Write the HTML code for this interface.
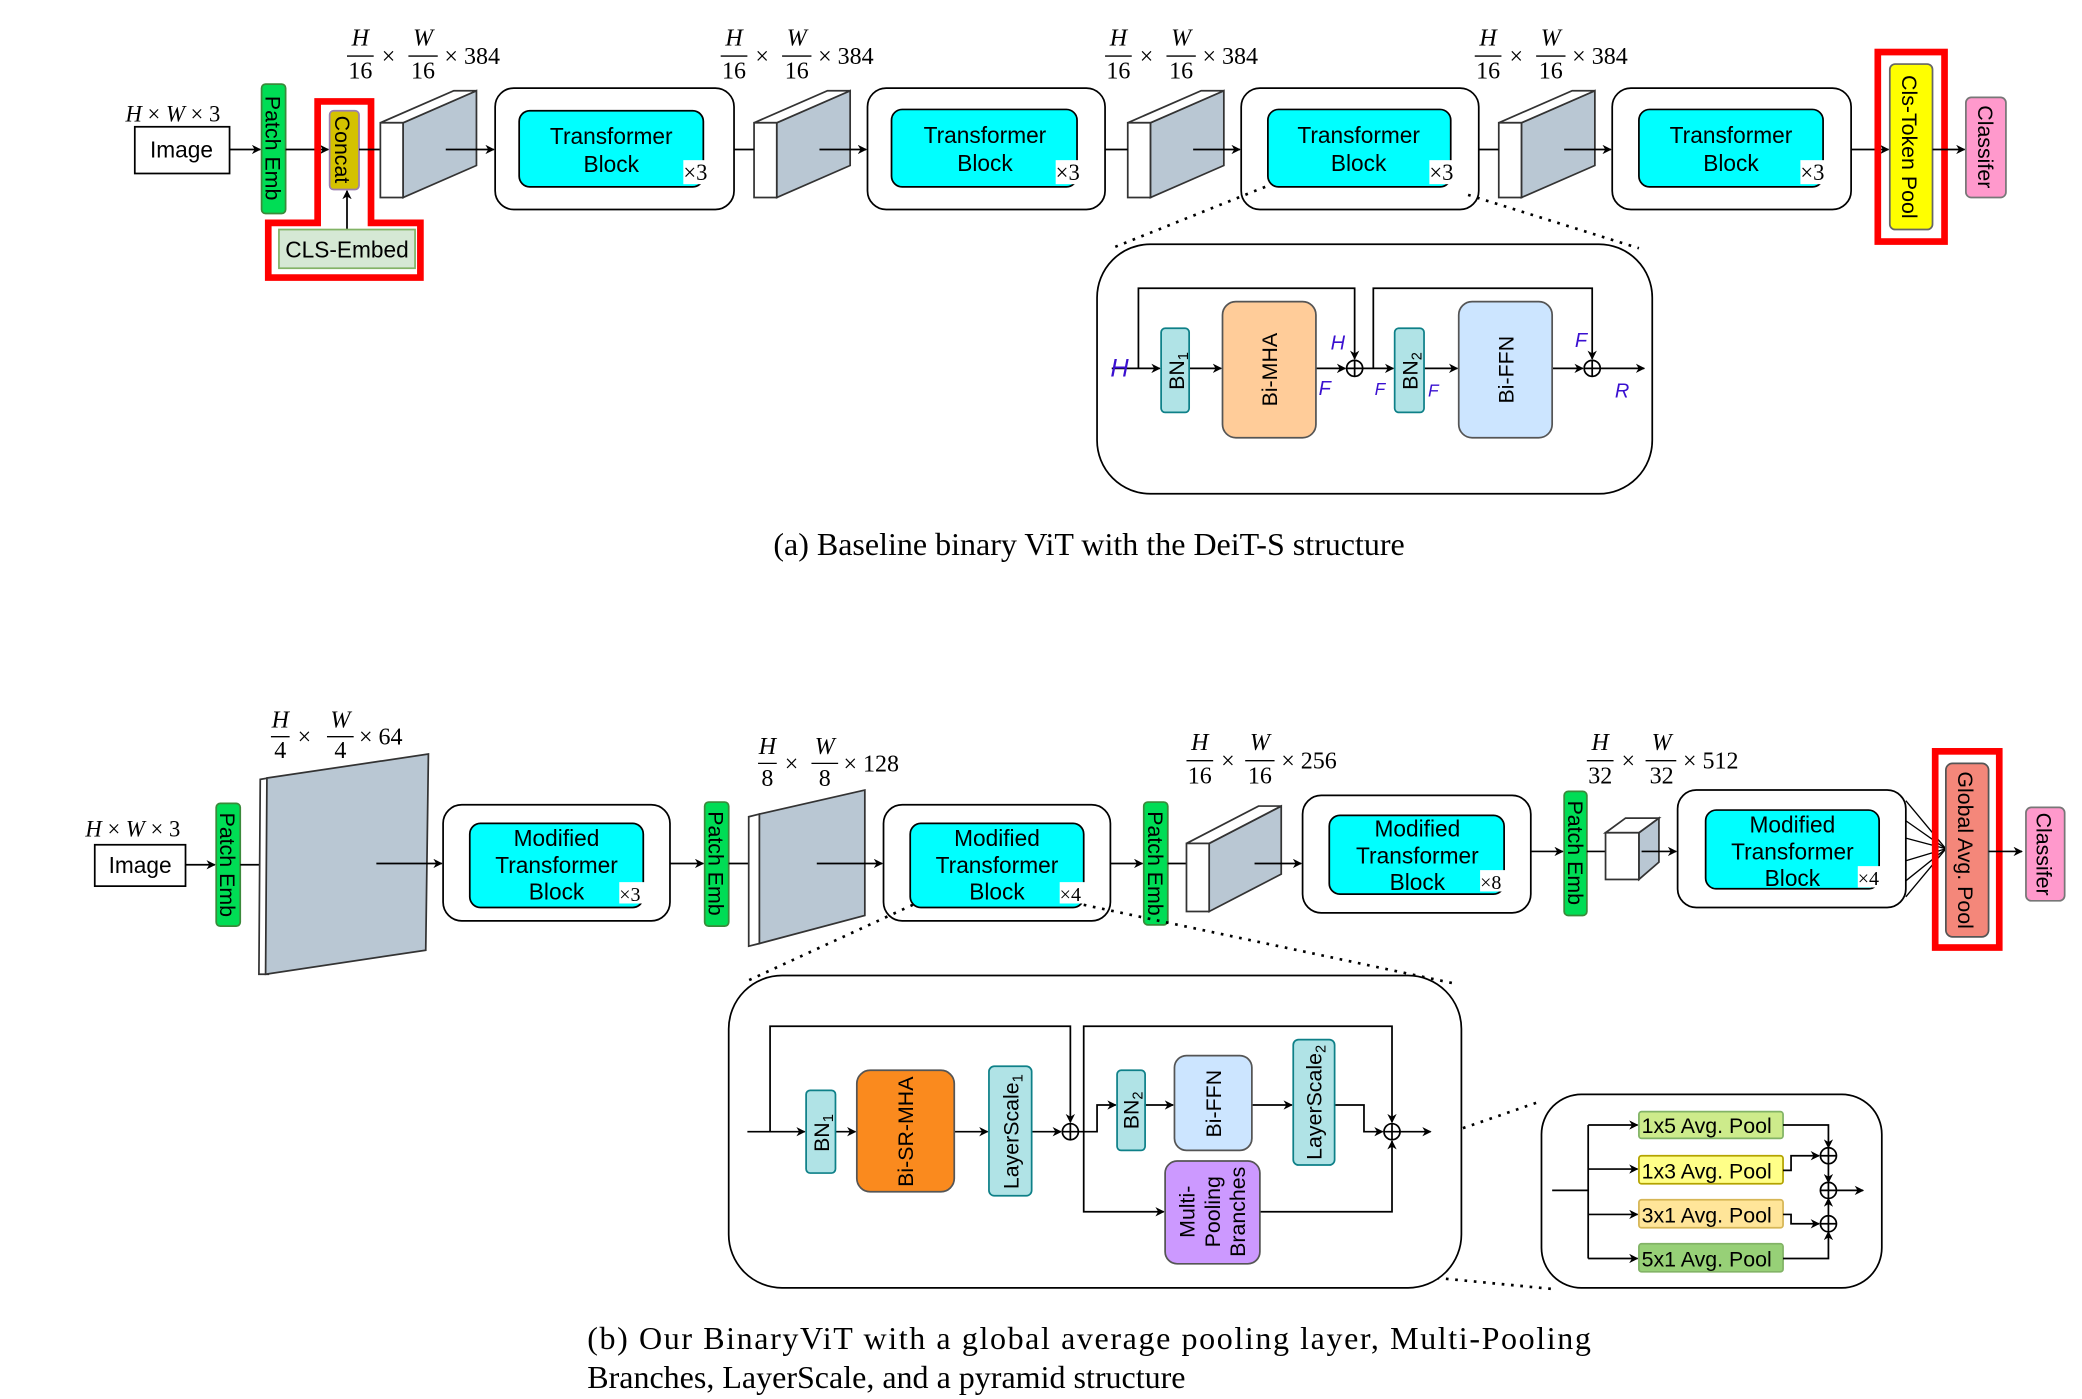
<!DOCTYPE html>
<html><head><meta charset="utf-8"><style>
html,body{margin:0;padding:0;background:#fff;}
svg{display:block;}
.s{font-family:"Liberation Sans",sans-serif;}
.m{font-family:"Liberation Serif",serif;}
</style></head><body>
<svg width="2082" height="1399" viewBox="0 0 1560 1048.3" preserveAspectRatio="none" xmlns="http://www.w3.org/2000/svg">
<defs>
<marker id="a" viewBox="0 0 10 10" refX="9" refY="5" markerWidth="7" markerHeight="7" orient="auto" markerUnits="userSpaceOnUse"><path d="M0,0 L10,5 L0,10 L3,5 Z" fill="#000"/></marker>
</defs>
<rect width="1560" height="1049" fill="#fff"/>
<g stroke="#000" stroke-width="1.3" fill="none">
<rect x="101" y="95" width="71" height="35" fill="#fff"/>
<line x1="172" y1="112" x2="195" y2="112" marker-end="url(#a)"/>
<rect x="196" y="63" width="18" height="97" rx="3" fill="#00dd55" stroke="#3a8a3a"/>
<line x1="214" y1="112" x2="246" y2="112" marker-end="url(#a)"/>
<rect x="247" y="83" width="22" height="59" rx="3" fill="#d4c200" stroke="#9a7fb0"/>
<line x1="260" y1="172" x2="260" y2="143" marker-end="url(#a)"/>
<rect x="209" y="172" width="102" height="29" fill="#d5e8d4" stroke="#82b366"/>
<path d="M238,76 L278,76 L278,167 L315,167 L315,208 L201,208 L201,167 L238,167 Z" stroke="#ff0000" stroke-width="5"/>
<line x1="269" y1="112" x2="285" y2="112"/>
<g fill="#b9c7d3" stroke="#333">
<path d="M302,92 L357,68 L357,124 L302,148 Z"/>
<path d="M285,92 L340,68 L357,68 L302,92 Z" fill="#fff"/>
<rect x="285" y="92" width="17" height="56" fill="#fff"/>
<path d="M582,92 L637,68 L637,124 L582,148 Z"/>
<path d="M565,92 L620,68 L637,68 L582,92 Z" fill="#fff"/>
<rect x="565" y="92" width="17" height="56" fill="#fff"/>
<path d="M862,92 L917,68 L917,124 L862,148 Z"/>
<path d="M845,92 L900,68 L917,68 L862,92 Z" fill="#fff"/>
<rect x="845" y="92" width="17" height="56" fill="#fff"/>
<path d="M1140,92 L1195,68 L1195,124 L1140,148 Z"/>
<path d="M1123,92 L1178,68 L1195,68 L1140,92 Z" fill="#fff"/>
<rect x="1123" y="92" width="17" height="56" fill="#fff"/>
</g>
<line x1="334" y1="112" x2="370" y2="112" marker-end="url(#a)"/>
<line x1="614" y1="112" x2="649" y2="112" marker-end="url(#a)"/>
<line x1="894" y1="112" x2="929" y2="112" marker-end="url(#a)"/>
<line x1="1172" y1="112" x2="1207" y2="112" marker-end="url(#a)"/>
<line x1="550" y1="112" x2="565" y2="112"/>
<line x1="828" y1="112" x2="845" y2="112"/>
<line x1="1108" y1="112" x2="1123" y2="112"/>
<rect x="371" y="66" width="179" height="91" rx="14" fill="#fff"/>
<rect x="389" y="83" width="138" height="57" rx="8" fill="#00ffff"/>
<rect x="650" y="66" width="178" height="91" rx="14" fill="#fff"/>
<rect x="668" y="82" width="139" height="58" rx="8" fill="#00ffff"/>
<rect x="930" y="66" width="178" height="91" rx="14" fill="#fff"/>
<rect x="950" y="82" width="137" height="58" rx="8" fill="#00ffff"/>
<rect x="1208" y="66" width="179" height="91" rx="14" fill="#fff"/>
<rect x="1228" y="82" width="138" height="58" rx="8" fill="#00ffff"/>
<line x1="1387" y1="112" x2="1415" y2="112" marker-end="url(#a)"/>
<rect x="1416" y="48" width="32" height="124" rx="4" fill="#ffff00" stroke="#666"/>
<rect x="1407" y="39" width="50" height="142" stroke="#ff0000" stroke-width="5"/>
<line x1="1448" y1="112" x2="1472" y2="112" marker-end="url(#a)"/>
<rect x="1473" y="73" width="30" height="75" rx="4" fill="#ff99cc" stroke="#777"/>
<g stroke-dasharray="2,5" stroke-width="2">
<line x1="948" y1="140" x2="833" y2="186"/>
<line x1="1100" y1="146" x2="1228" y2="186"/>
</g>
<rect x="822" y="183" width="416" height="187" rx="40" fill="#fff"/>
<path d="M853,276 L853,216 L1015,216 L1015,269" marker-end="url(#a)"/>
<path d="M1029,276 L1029,216 L1193,216 L1193,269" marker-end="url(#a)"/>
<line x1="833" y1="276" x2="869" y2="276" marker-end="url(#a)"/>
<line x1="891" y1="276" x2="915" y2="276" marker-end="url(#a)"/>
<line x1="986" y1="276" x2="1008" y2="276" marker-end="url(#a)"/>
<circle cx="1015" cy="276" r="6" fill="#fff"/>
<path d="M1009,276 H1021 M1015,270 V282"/>
<line x1="1021" y1="276" x2="1044" y2="276" marker-end="url(#a)"/>
<line x1="1067" y1="276" x2="1092" y2="276" marker-end="url(#a)"/>
<line x1="1163" y1="276" x2="1186" y2="276" marker-end="url(#a)"/>
<circle cx="1193" cy="276" r="6" fill="#fff"/>
<path d="M1187,276 H1199 M1193,270 V282"/>
<line x1="1199" y1="276" x2="1232" y2="276" marker-end="url(#a)"/>
<rect x="870" y="246" width="21" height="63" rx="3" fill="#b0e3e6" stroke="#0e8088"/>
<rect x="916" y="226" width="70" height="102" rx="10" fill="#ffcc99" stroke="#555"/>
<rect x="1045" y="246" width="22" height="63" rx="3" fill="#b0e3e6" stroke="#0e8088"/>
<rect x="1093" y="226" width="70" height="102" rx="10" fill="#cce5ff" stroke="#555"/>

<rect x="71" y="633" width="68" height="31" fill="#fff"/>
<line x1="139" y1="648" x2="161" y2="648" marker-end="url(#a)"/>
<rect x="162" y="602" width="18" height="92" rx="3" fill="#00dd55" stroke="#3a8a3a"/>
<line x1="180" y1="648" x2="196" y2="648"/>
<path d="M195,584 L201,583 L201,730 L194,730 Z" fill="#fff" stroke="#333"/>
<path d="M200,583 L321,565 L319,712 L199,730 Z" fill="#b9c7d3" stroke="#333"/>
<line x1="282" y1="647" x2="331" y2="647" marker-end="url(#a)"/>
<rect x="332" y="603" width="170" height="87" rx="14" fill="#fff"/>
<rect x="352" y="617" width="130" height="63" rx="8" fill="#00ffff"/>
<line x1="502" y1="647" x2="527" y2="647" marker-end="url(#a)"/>
<rect x="528" y="601" width="18" height="93" rx="3" fill="#00dd55" stroke="#3a8a3a"/>
<line x1="546" y1="647" x2="561" y2="647"/>
<path d="M561,612 L569,610 L569,707 L561,709 Z" fill="#fff" stroke="#333"/>
<path d="M569,610 L648,592 L648,686 L569,707 Z" fill="#b9c7d3" stroke="#333"/>
<line x1="612" y1="647" x2="661" y2="647" marker-end="url(#a)"/>
<rect x="662" y="603" width="170" height="87" rx="14" fill="#fff"/>
<rect x="682" y="617" width="130" height="63" rx="8" fill="#00ffff"/>
<line x1="832" y1="647" x2="856" y2="647" marker-end="url(#a)"/>
<rect x="857" y="601" width="18" height="92" rx="3" fill="#00dd55" stroke="#3a8a3a"/>
<line x1="875" y1="647" x2="890" y2="647"/>
<g stroke="#333">
<path d="M906,632 L960,604 L960,655 L906,683 Z" fill="#b9c7d3"/>
<path d="M889,632 L943,604 L960,604 L906,632 Z" fill="#fff"/>
<rect x="889" y="632" width="17" height="51" fill="#fff"/>
</g>
<line x1="940" y1="647" x2="975" y2="647" marker-end="url(#a)"/>
<rect x="976" y="596" width="171" height="88" rx="14" fill="#fff"/>
<rect x="996" y="611" width="131" height="59" rx="8" fill="#00ffff"/>
<line x1="1147" y1="638" x2="1171" y2="638" marker-end="url(#a)"/>
<rect x="1172" y="593" width="17" height="93" rx="3" fill="#00dd55" stroke="#3a8a3a"/>
<line x1="1189" y1="638" x2="1203" y2="638"/>
<g stroke="#333">
<path d="M1228,624 L1243,613 L1243,646 L1228,659 Z" fill="#b9c7d3"/>
<path d="M1203,624 L1218,613 L1243,613 L1228,624 Z" fill="#fff"/>
<rect x="1203" y="624" width="25" height="35" fill="#fff"/>
</g>
<line x1="1230" y1="638" x2="1256" y2="638" marker-end="url(#a)"/>
<rect x="1257" y="592" width="171" height="88" rx="14" fill="#fff"/>
<rect x="1278" y="607" width="130" height="59" rx="8" fill="#00ffff"/>
<g stroke-width="1">
<line x1="1428" y1="600" x2="1458" y2="636"/>
<line x1="1428" y1="615" x2="1458" y2="636"/>
<line x1="1428" y1="628" x2="1458" y2="636"/>
<line x1="1428" y1="645" x2="1458" y2="636"/>
<line x1="1428" y1="660" x2="1458" y2="636"/>
<line x1="1428" y1="672" x2="1458" y2="636"/>
</g>
<rect x="1458" y="572" width="32" height="130" rx="5" fill="#f4877a" stroke="#555"/>
<rect x="1450" y="563" width="48" height="147" stroke="#ff0000" stroke-width="5"/>
<line x1="1490" y1="638" x2="1515" y2="638" marker-end="url(#a)"/>
<rect x="1518" y="605" width="29" height="70" rx="4" fill="#ff99cc" stroke="#777"/>
<g stroke-dasharray="2,5" stroke-width="2">
<line x1="684" y1="678" x2="560" y2="735"/>
<line x1="812" y1="678" x2="1090" y2="737"/>
<line x1="944" y1="898" x2="1155" y2="825"/>
<line x1="944" y1="945" x2="1165" y2="966"/>
</g>
<rect x="546" y="731" width="549" height="234" rx="40" fill="#fff"/>
<path d="M577,848 L577,769 L802,769 L802,841" marker-end="url(#a)"/>
<line x1="560" y1="848" x2="603" y2="848" marker-end="url(#a)"/>
<line x1="626" y1="848" x2="641" y2="848" marker-end="url(#a)"/>
<line x1="715" y1="848" x2="740" y2="848" marker-end="url(#a)"/>
<line x1="773" y1="848" x2="795" y2="848" marker-end="url(#a)"/>
<circle cx="802" cy="848" r="6" fill="#fff"/>
<path d="M796,848 H808 M802,842 V854"/>
<path d="M808,848 L822,848 L822,828 L836,828" marker-end="url(#a)"/>
<path d="M812,848 L812,769 L1043,769 L1043,841" marker-end="url(#a)"/>
<path d="M812,848 L812,908 L872,908" marker-end="url(#a)"/>
<line x1="858" y1="828" x2="879" y2="828" marker-end="url(#a)"/>
<line x1="938" y1="828" x2="968" y2="828" marker-end="url(#a)"/>
<path d="M1000,828 L1022,828 L1022,848 L1036,848" marker-end="url(#a)"/>
<path d="M944,908 L1043,908 L1043,855" marker-end="url(#a)"/>
<circle cx="1043" cy="848" r="6" fill="#fff"/>
<path d="M1037,848 H1049 M1043,842 V854"/>
<line x1="1049" y1="848" x2="1072" y2="848" marker-end="url(#a)"/>
<rect x="604" y="817" width="22" height="62" rx="3" fill="#b0e3e6" stroke="#0e8088"/>
<rect x="642" y="802" width="73" height="91" rx="10" fill="#fa8a1e" stroke="#555"/>
<rect x="741" y="799" width="32" height="97" rx="4" fill="#b0e3e6" stroke="#0e8088"/>
<rect x="837" y="802" width="21" height="60" rx="3" fill="#b0e3e6" stroke="#0e8088"/>
<rect x="880" y="791" width="58" height="71" rx="9" fill="#cce5ff" stroke="#555"/>
<rect x="969" y="779" width="31" height="94" rx="4" fill="#b0e3e6" stroke="#0e8088"/>
<rect x="873" y="870" width="71" height="77" rx="9" fill="#cc99ff" stroke="#555"/>
<rect x="1155" y="820" width="255" height="145" rx="30" fill="#fff"/>
<line x1="1163" y1="892" x2="1190" y2="892"/>
<line x1="1190" y1="843" x2="1190" y2="943"/>
<line x1="1190" y1="843" x2="1227" y2="843" marker-end="url(#a)"/>
<line x1="1190" y1="876" x2="1227" y2="876" marker-end="url(#a)"/>
<line x1="1190" y1="910" x2="1227" y2="910" marker-end="url(#a)"/>
<line x1="1190" y1="943" x2="1227" y2="943" marker-end="url(#a)"/>
<rect x="1228" y="833" width="108" height="20" rx="2" fill="#cdeb8b" stroke="#82b366"/>
<rect x="1228" y="866" width="108" height="21" rx="2" fill="#ffff88" stroke="#b3a300"/>
<rect x="1228" y="899" width="108" height="21" rx="2" fill="#ffe599" stroke="#d6b656"/>
<rect x="1228" y="932" width="108" height="21" rx="2" fill="#97d077" stroke="#82b366"/>
<path d="M1336,843 L1370,843 L1370,860" marker-end="url(#a)"/>
<path d="M1336,877 L1342,877 L1342,866 L1363,866" marker-end="url(#a)"/>
<path d="M1336,910 L1342,910 L1342,917 L1363,917" marker-end="url(#a)"/>
<path d="M1336,943 L1370,943 L1370,923" marker-end="url(#a)"/>
<line x1="1370" y1="872" x2="1370" y2="886" marker-end="url(#a)"/>
<line x1="1370" y1="911" x2="1370" y2="898" marker-end="url(#a)"/>
<g fill="#fff">
<circle cx="1370" cy="866" r="6"/><circle cx="1370" cy="892" r="6"/><circle cx="1370" cy="917" r="6"/>
</g>
<path d="M1364,866 H1376 M1370,860 V872 M1364,892 H1376 M1370,886 V898 M1364,917 H1376 M1370,911 V923"/>
<line x1="1376" y1="892" x2="1396" y2="892" marker-end="url(#a)"/>
</g>

<g class="s" fill="#000" font-size="16">
<text x="136" y="118" text-anchor="middle" font-size="17">Image</text>
<text x="105" y="654" text-anchor="middle" font-size="17">Image</text>
<text x="260" y="193" text-anchor="middle" font-size="17">CLS-Embed</text>
<g font-size="17" text-anchor="middle">
<text x="458" y="108">Transformer</text><text x="458" y="129">Block</text>
<text x="738" y="107">Transformer</text><text x="738" y="128">Block</text>
<text x="1018" y="107">Transformer</text><text x="1018" y="128">Block</text>
<text x="1297" y="107">Transformer</text><text x="1297" y="128">Block</text>
<text x="417" y="634">Modified</text><text x="417" y="654">Transformer</text><text x="417" y="674">Block</text>
<text x="747" y="634">Modified</text><text x="747" y="654">Transformer</text><text x="747" y="674">Block</text>
<text x="1062" y="627">Modified</text><text x="1062" y="647">Transformer</text><text x="1062" y="667">Block</text>
<text x="1343" y="624">Modified</text><text x="1343" y="644">Transformer</text><text x="1343" y="664">Block</text>
</g>
<text transform="translate(199,111) rotate(90)" text-anchor="middle" font-size="16">Patch Emb</text>
<text transform="translate(251,112) rotate(90)" text-anchor="middle" font-size="16">Concat</text>
<text transform="translate(1425,110) rotate(90)" text-anchor="middle" font-size="16">Cls-Token Pool</text>
<text transform="translate(1482,110) rotate(90)" text-anchor="middle" font-size="16">Classifer</text>
<text transform="translate(165,648) rotate(90)" text-anchor="middle">Patch Emb</text>
<text transform="translate(531,647) rotate(90)" text-anchor="middle">Patch Emb</text>
<text transform="translate(860,647) rotate(90)" text-anchor="middle">Patch Emb</text>
<text transform="translate(1175,639) rotate(90)" text-anchor="middle">Patch Emb</text>
<text transform="translate(1467,637) rotate(90)" text-anchor="middle">Global Avg. Pool</text>
<text transform="translate(1526,640) rotate(90)" text-anchor="middle">Classifer</text>
<text transform="translate(887,278) rotate(-90)" text-anchor="middle">BN<tspan font-size="11" dy="3">1</tspan></text>
<text transform="translate(957,277) rotate(-90)" text-anchor="middle">Bi-MHA</text>
<text transform="translate(1062,278) rotate(-90)" text-anchor="middle">BN<tspan font-size="11" dy="3">2</tspan></text>
<text transform="translate(1134,277) rotate(-90)" text-anchor="middle">Bi-FFN</text>
<text transform="translate(621,849) rotate(-90)" text-anchor="middle">BN<tspan font-size="11" dy="3">1</tspan></text>
<text transform="translate(684,848) rotate(-90)" text-anchor="middle">Bi-SR-MHA</text>
<text transform="translate(763,848) rotate(-90)" text-anchor="middle">LayerScale<tspan font-size="11" dy="3">1</tspan></text>
<text transform="translate(853,832) rotate(-90)" text-anchor="middle">BN<tspan font-size="11" dy="3">2</tspan></text>
<text transform="translate(915,827) rotate(-90)" text-anchor="middle">Bi-FFN</text>
<text transform="translate(990,826) rotate(-90)" text-anchor="middle">LayerScale<tspan font-size="11" dy="3">2</tspan></text>
<text transform="translate(895,908) rotate(-90)" text-anchor="middle">Multi-</text>
<text transform="translate(914,908) rotate(-90)" text-anchor="middle">Pooling</text>
<text transform="translate(933,908) rotate(-90)" text-anchor="middle">Branches</text>
<g font-size="16">
<text x="1230" y="849">1x5 Avg. Pool</text>
<text x="1230" y="883">1x3 Avg. Pool</text>
<text x="1230" y="916">3x1 Avg. Pool</text>
<text x="1230" y="949">5x1 Avg. Pool</text>
</g>
</g>
<g class="m" font-size="17">
<rect x="512" y="120" width="24" height="18" fill="#fff"/><text x="512" y="135">×3</text>
<rect x="791" y="120" width="24" height="18" fill="#fff"/><text x="791" y="135">×3</text>
<rect x="1071" y="120" width="24" height="18" fill="#fff"/><text x="1071" y="135">×3</text>
<rect x="1349" y="120" width="24" height="18" fill="#fff"/><text x="1349" y="135">×3</text>
<g font-size="15">
<rect x="464" y="661" width="22" height="16" fill="#fff"/><text x="464" y="675">×3</text>
<rect x="794" y="661" width="22" height="16" fill="#fff"/><text x="794" y="675">×4</text>
<rect x="1109" y="652" width="22" height="16" fill="#fff"/><text x="1109" y="666">×8</text>
<rect x="1392" y="649" width="22" height="16" fill="#fff"/><text x="1392" y="663">×4</text>
</g>
<text x="94" y="91" font-style="italic">H <tspan font-style="normal">×</tspan> W <tspan font-style="normal">×</tspan> <tspan font-style="normal">3</tspan></text>
<text x="64" y="627" font-style="italic">H <tspan font-style="normal">×</tspan> W <tspan font-style="normal">×</tspan> <tspan font-style="normal">3</tspan></text>
</g>
<g class="m" font-size="18" fill="#000">
<g transform="translate(258,0)"><text x="12" y="34" text-anchor="middle" font-style="italic">H</text><line x1="2" y1="42" x2="22" y2="42" stroke="#000"/><text x="12" y="59" text-anchor="middle">16</text><text x="28" y="48">×</text><text x="59" y="34" text-anchor="middle" font-style="italic">W</text><line x1="48" y1="42" x2="70" y2="42" stroke="#000"/><text x="59" y="59" text-anchor="middle">16</text><text x="75" y="48">× 384</text></g>
<g transform="translate(538,0)"><text x="12" y="34" text-anchor="middle" font-style="italic">H</text><line x1="2" y1="42" x2="22" y2="42" stroke="#000"/><text x="12" y="59" text-anchor="middle">16</text><text x="28" y="48">×</text><text x="59" y="34" text-anchor="middle" font-style="italic">W</text><line x1="48" y1="42" x2="70" y2="42" stroke="#000"/><text x="59" y="59" text-anchor="middle">16</text><text x="75" y="48">× 384</text></g>
<g transform="translate(826,0)"><text x="12" y="34" text-anchor="middle" font-style="italic">H</text><line x1="2" y1="42" x2="22" y2="42" stroke="#000"/><text x="12" y="59" text-anchor="middle">16</text><text x="28" y="48">×</text><text x="59" y="34" text-anchor="middle" font-style="italic">W</text><line x1="48" y1="42" x2="70" y2="42" stroke="#000"/><text x="59" y="59" text-anchor="middle">16</text><text x="75" y="48">× 384</text></g>
<g transform="translate(1103,0)"><text x="12" y="34" text-anchor="middle" font-style="italic">H</text><line x1="2" y1="42" x2="22" y2="42" stroke="#000"/><text x="12" y="59" text-anchor="middle">16</text><text x="28" y="48">×</text><text x="59" y="34" text-anchor="middle" font-style="italic">W</text><line x1="48" y1="42" x2="70" y2="42" stroke="#000"/><text x="59" y="59" text-anchor="middle">16</text><text x="75" y="48">× 384</text></g>
<g transform="translate(200,0)"><text x="10" y="545" text-anchor="middle" font-style="italic">H</text><line x1="3" y1="552" x2="17" y2="552" stroke="#000"/><text x="10" y="568" text-anchor="middle">4</text><text x="23" y="558">×</text><text x="55" y="545" text-anchor="middle" font-style="italic">W</text><line x1="45" y1="552" x2="65" y2="552" stroke="#000"/><text x="55" y="568" text-anchor="middle">4</text><text x="69" y="558">× 64</text></g>
<g transform="translate(565,0)"><text x="10" y="565" text-anchor="middle" font-style="italic">H</text><line x1="3" y1="572" x2="17" y2="572" stroke="#000"/><text x="10" y="589" text-anchor="middle">8</text><text x="23" y="578">×</text><text x="53" y="565" text-anchor="middle" font-style="italic">W</text><line x1="43" y1="572" x2="63" y2="572" stroke="#000"/><text x="53" y="589" text-anchor="middle">8</text><text x="67" y="578">× 128</text></g>
<g transform="translate(887,0)"><text x="12" y="562" text-anchor="middle" font-style="italic">H</text><line x1="2" y1="570" x2="22" y2="570" stroke="#000"/><text x="12" y="587" text-anchor="middle">16</text><text x="28" y="576">×</text><text x="57" y="562" text-anchor="middle" font-style="italic">W</text><line x1="46" y1="570" x2="68" y2="570" stroke="#000"/><text x="57" y="587" text-anchor="middle">16</text><text x="73" y="576">× 256</text></g>
<g transform="translate(1187,0)"><text x="12" y="562" text-anchor="middle" font-style="italic">H</text><line x1="2" y1="570" x2="22" y2="570" stroke="#000"/><text x="12" y="587" text-anchor="middle">32</text><text x="28" y="576">×</text><text x="58" y="562" text-anchor="middle" font-style="italic">W</text><line x1="46" y1="570" x2="69" y2="570" stroke="#000"/><text x="58" y="587" text-anchor="middle">32</text><text x="74" y="576">× 512</text></g>
</g>
<g class="s" fill="#3a10d0" font-size="15" font-style="italic">
<text x="832" y="282" font-size="19">H</text>
<text x="997" y="262">H</text>
<text x="988" y="296">F</text>
<text x="1030" y="296" font-size="13">F</text>
<text x="1070" y="297" font-size="13">F</text>
<text x="1180" y="260">F</text>
<text x="1210" y="298">R</text>
</g>
<g class="m" font-size="24" fill="#000">
<text x="816" y="416" text-anchor="middle">(a) Baseline binary ViT with the DeiT-S structure</text>
<text x="440" y="1011" textLength="752" lengthAdjust="spacing">(b) Our BinaryViT with a global average pooling layer, Multi-Pooling</text>
<text x="440" y="1040">Branches, LayerScale, and a pyramid structure</text>
</g>
</svg>
</body></html>
